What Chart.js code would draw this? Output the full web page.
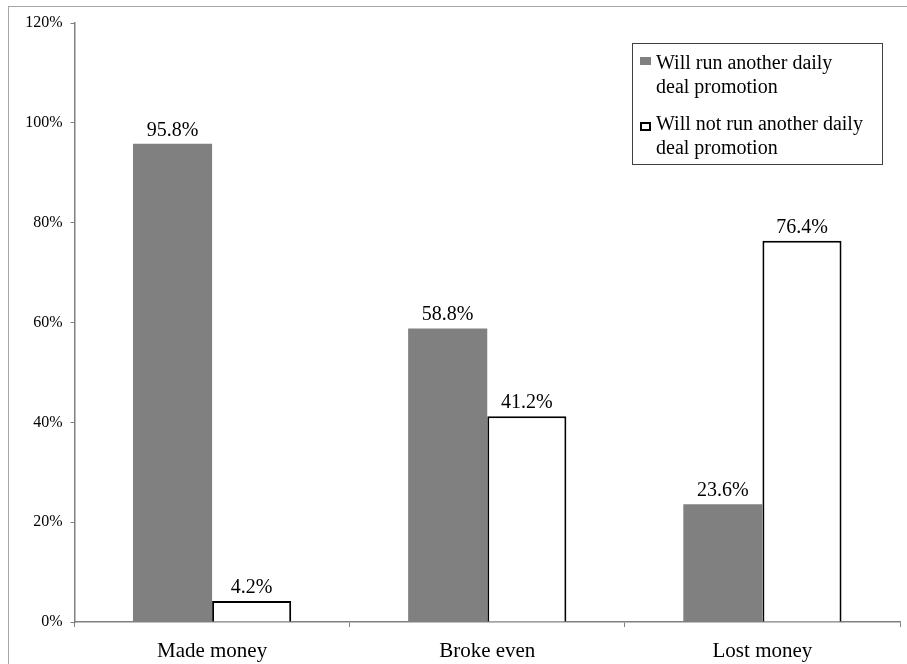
<!DOCTYPE html>
<html>
<head>
<meta charset="utf-8">
<script src="https://cdn.jsdelivr.net/npm/chart.js@4.4.1/dist/chart.umd.min.js"></script>
<style>
  html, body { margin: 0; padding: 0; background: #ffffff; }
  #wrap { position: relative; width: 907px; height: 664px; overflow: hidden; }
  #frame { position: absolute; left: 8px; top: 6px; width: 960px; height: 720px;
           border: 1px solid #a6a6a6; box-sizing: border-box; pointer-events: none; }
  canvas { position: absolute; left: 0; top: 0; }
</style>
</head>
<body>
<div id="wrap">
  <canvas id="c" width="907" height="664"></canvas>
  <div id="frame"></div>
</div>
<script>
// Outcome of the daily deal vs. intention to repeat it
const categories = ['Made money', 'Broke even', 'Lost money'];
const willRunAgain = [95.8, 58.8, 23.6];
const willNotRunAgain = [4.2, 41.2, 76.4];
const seriesNames = [
  ['Will run another daily', 'deal promotion'],
  ['Will not run another daily', 'deal promotion']
];
const yTicks = [0, 20, 40, 60, 80, 100, 120];

const SERIF = '"Liberation Serif", "Times New Roman", serif';

// Value labels above each bar
const valueLabels = {
  id: 'valueLabels',
  afterDatasetsDraw(chart) {
    const ctx = chart.ctx;
    ctx.save();
    ctx.font = '20px ' + SERIF;
    ctx.fillStyle = '#000000';
    ctx.textAlign = 'center';
    ctx.textBaseline = 'alphabetic';
    chart.data.datasets.forEach((ds, di) => {
      chart.getDatasetMeta(di).data.forEach((bar, i) => {
        ctx.fillText(ds.data[i].toFixed(1) + '%', bar.x, bar.y - 8);
      });
    });
    ctx.restore();
  }
};

// Boxed legend with two-line entries
const boxedLegend = {
  id: 'boxedLegend',
  afterDraw(chart) {
    const ctx = chart.ctx;
    const left = 632, top = 43, right = 882, bottom = 164;
    ctx.save();
    ctx.fillStyle = '#ffffff';
    ctx.fillRect(left, top, right - left, bottom - top);
    ctx.strokeStyle = '#404040';
    ctx.lineWidth = 1;
    ctx.strokeRect(left + 0.5, top + 0.5, right - left, bottom - top);
    ctx.font = '20px ' + SERIF;
    ctx.textAlign = 'left';
    ctx.textBaseline = 'alphabetic';
    const baselines = [69, 130];
    chart.data.datasets.forEach((ds, di) => {
      const b = baselines[di];
      if (di === 0) {
        ctx.fillStyle = ds.backgroundColor;
        ctx.fillRect(640, b - 12, 11, 8);
      } else {
        ctx.fillStyle = '#ffffff';
        ctx.fillRect(640, b - 8, 11, 9);
        ctx.strokeStyle = '#000000';
        ctx.lineWidth = 2;
        ctx.strokeRect(641, b - 7, 9, 7);
      }
      ctx.fillStyle = '#000000';
      seriesNames[di].forEach((line, li) => {
        ctx.fillText(line, 656, b + li * 24);
      });
    });
    ctx.restore();
  }
};

new Chart(document.getElementById('c'), {
  type: 'bar',
  data: {
    labels: categories,
    datasets: [
      {
        label: seriesNames[0].join(' '),
        data: willRunAgain,
        backgroundColor: '#808080',
        borderWidth: 0,
        categoryPercentage: 0.575,
        barPercentage: 1.0
      },
      {
        label: seriesNames[1].join(' '),
        data: willNotRunAgain,
        backgroundColor: '#ffffff',
        borderColor: '#000000',
        borderWidth: 2,
        categoryPercentage: 0.575,
        barPercentage: 1.0
      }
    ]
  },
  options: {
    responsive: false,
    animation: false,
    layout: { padding: { top: 23, right: 7, left: 0, bottom: 0 } },
    plugins: {
      legend: { display: false },
      tooltip: { enabled: false }
    },
    scales: {
      x: {
        grid: {
          display: true,
          offset: true,
          drawOnChartArea: false,
          drawTicks: true,
          tickLength: 5,
          color: '#808080'
        },
        border: { display: true, color: '#808080', width: 1.5 },
        ticks: {
          color: '#000000',
          font: { family: SERIF, size: 21 },
          padding: 12,
          maxRotation: 0
        },
        afterFit(scale) { scale.height = 42; }
      },
      y: {
        min: 0,
        max: 120,
        afterBuildTicks(scale) { scale.ticks = yTicks.map(v => ({ value: v })); },
        grid: {
          display: true,
          drawOnChartArea: false,
          drawTicks: true,
          tickLength: 4,
          color: '#808080'
        },
        border: { display: true, color: '#808080', width: 1.5 },
        ticks: {
          color: '#000000',
          font: { family: SERIF, size: 16 },
          padding: 8,
          callback: v => v + '%'
        },
        afterFit(scale) { scale.width = 74.5; }
      }
    }
  },
  plugins: [valueLabels, boxedLegend]
});
</script>
</body>
</html>
